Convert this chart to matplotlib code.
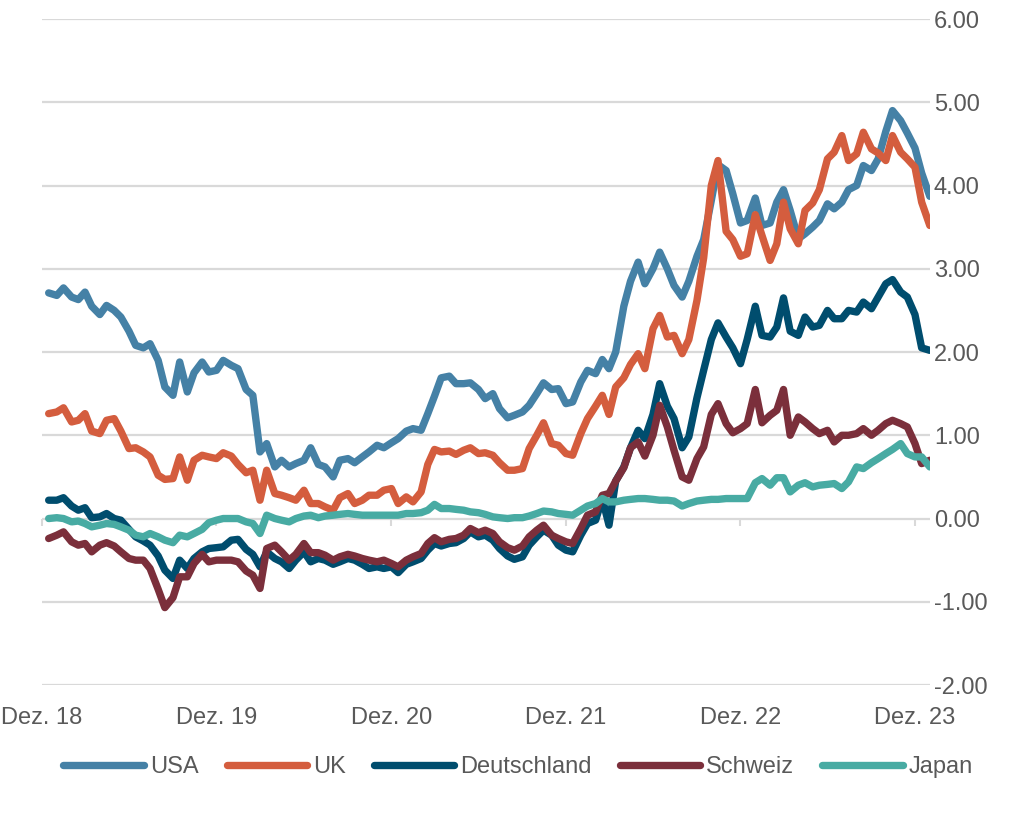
import pandas as pd
import matplotlib
matplotlib.use('Agg')
from matplotlib import pyplot as plt
from matplotlib.ticker import FuncFormatter

plt.rcParams['font.family'] = ['Liberation Sans', 'DejaVu Sans']

# halbmonatliche Werte, Dez. 2018 bis Jan. 2024
dates = pd.date_range('2018-12-15', periods=122, freq='SMS')

usa = [2.71, 2.68, 2.77, 2.66, 2.63, 2.72, 2.55, 2.45, 2.56, 2.50,
       2.42, 2.25, 2.08, 2.05, 2.10, 1.90, 1.58, 1.48, 1.88, 1.52,
       1.75, 1.88, 1.76, 1.78, 1.90, 1.84, 1.80, 1.55, 1.48, 0.80,
       0.90, 0.62, 0.70, 0.62, 0.66, 0.70, 0.85, 0.65, 0.62, 0.50,
       0.70, 0.72, 0.67, 0.74, 0.80, 0.88, 0.85, 0.91, 0.96, 1.05,
       1.08, 1.06, 1.26, 1.47, 1.69, 1.71, 1.62, 1.62, 1.63, 1.55,
       1.44, 1.50, 1.32, 1.21, 1.24, 1.28, 1.36, 1.50, 1.63, 1.55,
       1.56, 1.38, 1.40, 1.64, 1.78, 1.74, 1.91, 1.80, 2.00, 2.55,
       2.85, 3.08, 2.82, 3.00, 3.20, 3.00, 2.80, 2.66, 2.85, 3.15,
       3.35, 3.82, 4.25, 4.18, 3.90, 3.55, 3.58, 3.85, 3.52, 3.55,
       3.80, 3.95, 3.70, 3.36, 3.42, 3.50, 3.58, 3.78, 3.72, 3.80,
       3.95, 4.00, 4.24, 4.18, 4.32, 4.65, 4.90, 4.78, 4.63, 4.45,
       4.15, 3.87]

uk = [1.26, 1.28, 1.33, 1.16, 1.18, 1.26, 1.05, 1.02, 1.18, 1.20,
      1.05, 0.84, 0.85, 0.80, 0.74, 0.52, 0.47, 0.48, 0.74, 0.46,
      0.70, 0.76, 0.74, 0.72, 0.79, 0.75, 0.65, 0.55, 0.58, 0.22,
      0.58, 0.30, 0.28, 0.25, 0.22, 0.34, 0.18, 0.18, 0.14, 0.10,
      0.25, 0.30, 0.18, 0.22, 0.28, 0.28, 0.34, 0.36, 0.18, 0.26,
      0.20, 0.32, 0.65, 0.83, 0.80, 0.81, 0.77, 0.82, 0.85, 0.78,
      0.79, 0.76, 0.67, 0.58, 0.58, 0.60, 0.84, 1.00, 1.15, 0.90,
      0.88, 0.78, 0.76, 1.02, 1.20, 1.35, 1.48, 1.25, 1.58, 1.69,
      1.85, 1.98, 1.80, 2.28, 2.44, 2.18, 2.20, 1.98, 2.15, 2.62,
      3.13, 4.00, 4.30, 3.45, 3.35, 3.15, 3.18, 3.65, 3.40, 3.10,
      3.30, 3.80, 3.48, 3.30, 3.70, 3.79, 3.95, 4.32, 4.40, 4.60,
      4.30, 4.38, 4.64, 4.44, 4.39, 4.30, 4.60, 4.40, 4.32, 4.22,
      3.80, 3.52]

deutschland = [0.22, 0.22, 0.25, 0.15, 0.10, 0.13, 0.01, 0.02, 0.06, 0.00,
               -0.02, -0.13, -0.22, -0.27, -0.32, -0.45, -0.62, -0.72, -0.50, -0.60,
               -0.48, -0.40, -0.36, -0.35, -0.34, -0.26, -0.25, -0.37, -0.43, -0.58,
               -0.40, -0.48, -0.52, -0.60, -0.50, -0.40, -0.52, -0.48, -0.50, -0.55,
               -0.52, -0.48, -0.50, -0.55, -0.60, -0.58, -0.60, -0.58, -0.65, -0.55,
               -0.52, -0.48, -0.38, -0.30, -0.33, -0.30, -0.29, -0.24, -0.16, -0.22,
               -0.20, -0.26, -0.36, -0.45, -0.49, -0.46, -0.32, -0.22, -0.14, -0.20,
               -0.32, -0.38, -0.40, -0.20, -0.06, -0.02, 0.24, -0.08, 0.45, 0.62,
               0.85, 1.06, 0.96, 1.25, 1.62, 1.35, 1.20, 0.85, 0.98, 1.45,
               1.78, 2.15, 2.35, 2.18, 2.05, 1.86, 2.15, 2.55, 2.20, 2.18,
               2.30, 2.65, 2.25, 2.20, 2.42, 2.30, 2.32, 2.50, 2.40, 2.40,
               2.50, 2.48, 2.60, 2.52, 2.66, 2.82, 2.87, 2.72, 2.66, 2.45,
               2.05, 2.02]

schweiz = [-0.24, -0.20, -0.16, -0.28, -0.32, -0.30, -0.40, -0.32, -0.29, -0.33,
           -0.40, -0.48, -0.50, -0.50, -0.60, -0.85, -1.07, -0.95, -0.70, -0.70,
           -0.54, -0.43, -0.52, -0.50, -0.50, -0.50, -0.52, -0.63, -0.68, -0.84,
           -0.36, -0.32, -0.40, -0.50, -0.43, -0.30, -0.41, -0.41, -0.44, -0.50,
           -0.46, -0.43, -0.45, -0.48, -0.50, -0.52, -0.50, -0.54, -0.58, -0.50,
           -0.46, -0.42, -0.30, -0.23, -0.28, -0.25, -0.24, -0.20, -0.12, -0.17,
           -0.14, -0.18, -0.28, -0.35, -0.38, -0.33, -0.22, -0.14, -0.08, -0.20,
           -0.24, -0.28, -0.30, -0.12, 0.04, 0.08, 0.28, 0.30, 0.45, 0.61,
           0.85, 0.92, 0.75, 1.00, 1.36, 1.10, 0.82, 0.50, 0.46, 0.72,
           0.86, 1.25, 1.38, 1.14, 1.03, 1.08, 1.14, 1.55, 1.15, 1.24,
           1.30, 1.55, 1.00, 1.22, 1.16, 1.08, 1.02, 1.06, 0.92, 1.00,
           1.00, 1.02, 1.08, 1.00, 1.06, 1.14, 1.18, 1.14, 1.10, 0.90,
           0.66, 0.70]

japan = [0.00, 0.01, 0.00, -0.04, -0.03, -0.06, -0.10, -0.08, -0.06, -0.07,
         -0.10, -0.14, -0.20, -0.22, -0.18, -0.22, -0.26, -0.29, -0.20, -0.22,
         -0.18, -0.13, -0.05, -0.02, 0.00, 0.00, 0.00, -0.04, -0.06, -0.18,
         0.04, 0.00, -0.02, -0.04, 0.00, 0.03, 0.04, 0.01, 0.03, 0.04,
         0.05, 0.06, 0.05, 0.04, 0.04, 0.04, 0.04, 0.04, 0.04, 0.06,
         0.06, 0.07, 0.10, 0.17, 0.12, 0.12, 0.11, 0.10, 0.08, 0.07,
         0.05, 0.02, 0.01, 0.00, 0.01, 0.01, 0.03, 0.06, 0.09, 0.08,
         0.06, 0.05, 0.04, 0.10, 0.15, 0.18, 0.24, 0.20, 0.20, 0.22,
         0.23, 0.24, 0.24, 0.23, 0.22, 0.22, 0.21, 0.15, 0.18, 0.21,
         0.22, 0.23, 0.23, 0.24, 0.24, 0.24, 0.24, 0.43, 0.48, 0.40,
         0.49, 0.49, 0.32, 0.40, 0.43, 0.38, 0.40, 0.41, 0.42, 0.36,
         0.44, 0.62, 0.60, 0.67, 0.72, 0.78, 0.83, 0.90, 0.78, 0.74,
         0.74, 0.62]

series = ['USA', 'UK', 'Deutschland', 'Schweiz', 'Japan']
colors = ['#4581a6', '#d45d3e', '#004d6e', '#7b2f3b', '#48aba3']
xtick_dates = pd.to_datetime(['2018-12-01', '2019-12-01', '2020-12-01',
                              '2021-12-01', '2022-12-01', '2023-12-01'])
xtick_labels = ['Dez. 18', 'Dez. 19', 'Dez. 20', 'Dez. 21', 'Dez. 22', 'Dez. 23']
yticks = [-2, -1, 0, 1, 2, 3, 4, 5, 6]

fig = plt.figure(figsize=(10.24, 8.16), dpi=100)
ax = fig.add_axes([0.041, 0.1605, 0.867, 0.8162])

for name, vals, c in zip(series, [usa, uk, deutschland, schweiz, japan], colors):
    ax.plot(dates, vals, color=c, lw=5.3, label=name,
            solid_capstyle='round', solid_joinstyle='round')

ax.set_xlim(pd.Timestamp('2018-12-01'), pd.Timestamp('2024-01-01'))
ax.set_ylim(-2, 6)

ax.set_yticks(yticks)
ax.yaxis.set_major_formatter(FuncFormatter(lambda v, p: f'{v:.2f}'))
ax.yaxis.tick_right()
ax.grid(axis='y', color='#d9d9d9', lw=1.6)
ax.set_axisbelow(True)

ax.set_xticks(xtick_dates)
ax.set_xticklabels(xtick_labels)
ax.tick_params(axis='both', length=0, labelsize=17, labelcolor='#595959')
ax.tick_params(axis='x', pad=16)
ax.tick_params(axis='y', pad=3)
for s in ax.spines.values():
    s.set_visible(False)

# kleine Markierungen an der Nulllinie
sec = ax.secondary_xaxis(0.25)
sec.set_xticks(xtick_dates)
sec.set_xticklabels([])
sec.tick_params(length=5, width=1.5, color='#d9d9d9')
sec.spines['bottom'].set_visible(False)

fig.legend(loc='center', bbox_to_anchor=(0.506, 0.06), ncol=5, frameon=False,
           fontsize=17, labelcolor='#595959', handlelength=3.4,
           handletextpad=0.25, columnspacing=1.2)

fig.savefig('out.png', dpi=100)
